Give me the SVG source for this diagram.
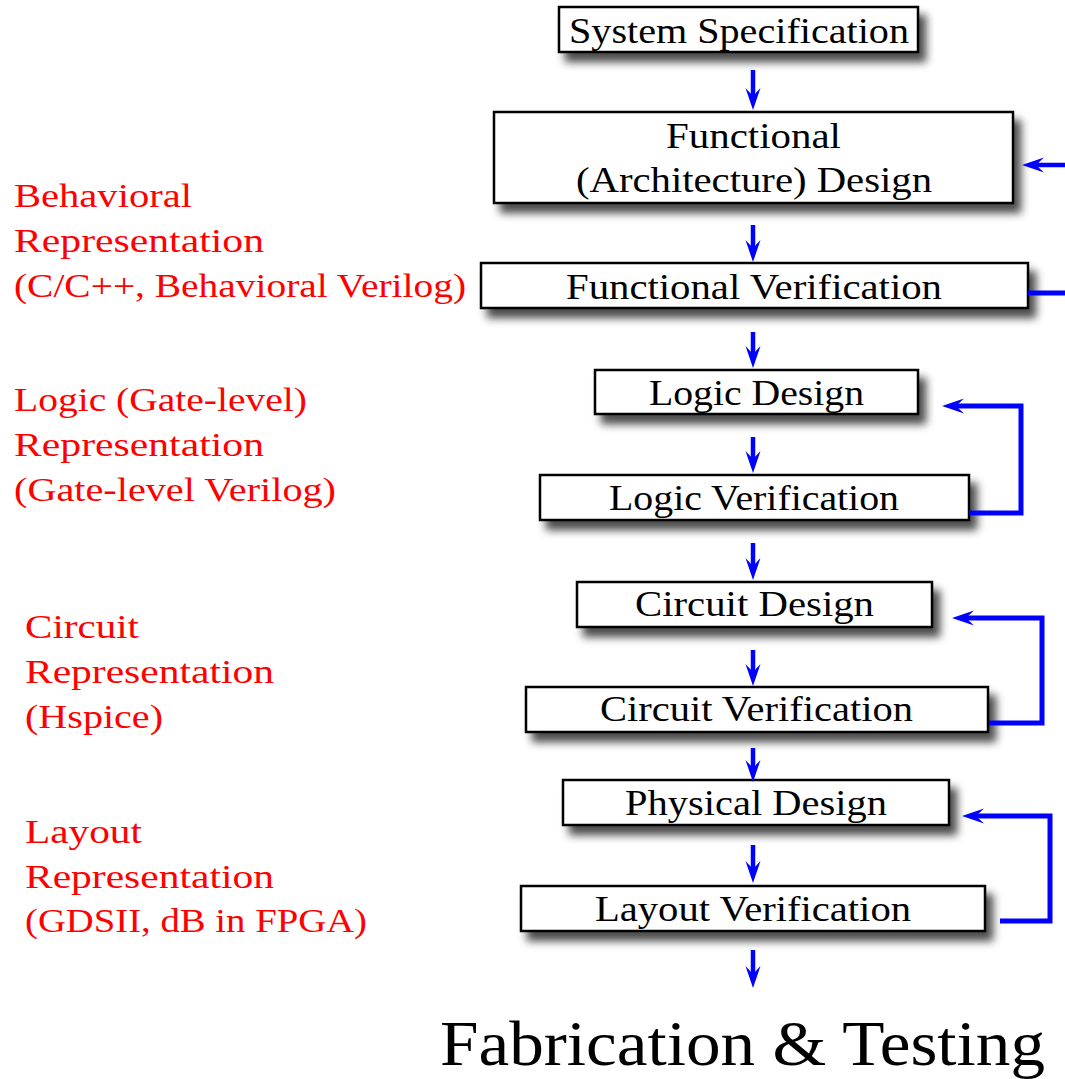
<svg xmlns="http://www.w3.org/2000/svg" width="1065" height="1079" viewBox="0 0 1065 1079">
  <style>
    .box { fill: #ffffff; stroke: #000000; stroke-width: 2.5; filter: url(#shadow); }
    .lbl { font-family: "Liberation Serif", "Times New Roman", Times, serif; font-size: 35px; fill: #000000; }
    .rep { font-family: "Liberation Serif", "Times New Roman", Times, serif; font-size: 34px; fill: #ff0000; }
    .big { font-family: "Liberation Serif", "Times New Roman", Times, serif; font-size: 64px; fill: #000000; }
    .flow { fill: none; stroke: #0000ff; stroke-width: 4.5; marker-end: url(#head); }
    .loop { fill: none; stroke: #0000ff; stroke-width: 5; stroke-linejoin: miter; }
  </style>
  <defs>
    <filter id="shadow" x="-10%" y="-30%" width="130%" height="190%">
      <feDropShadow dx="7" dy="9" stdDeviation="4.5" flood-color="#000000" flood-opacity="0.7"/>
    </filter>
    <marker id="head" markerUnits="userSpaceOnUse" viewBox="0 -8 22 16" refX="8" refY="0" markerWidth="22" markerHeight="16" orient="auto">
      <path d="M22,0 L0,-7.5 L8,0 L0,7.5 z" fill="#0000ff"/>
    </marker>
  </defs>

  <rect width="1065" height="1079" fill="#ffffff"/>

  <!-- representation labels -->
  <g id="rep-behavioral">
    <text class="rep" x="14" y="207" textLength="178" lengthAdjust="spacingAndGlyphs">Behavioral</text>
    <text class="rep" x="14" y="252" textLength="250" lengthAdjust="spacingAndGlyphs">Representation</text>
    <text class="rep" x="14" y="297" textLength="452" lengthAdjust="spacingAndGlyphs">(C/C++, Behavioral Verilog)</text>
  </g>
  <g id="rep-logic">
    <text class="rep" x="14" y="411" textLength="293" lengthAdjust="spacingAndGlyphs">Logic (Gate-level)</text>
    <text class="rep" x="14" y="456" textLength="250" lengthAdjust="spacingAndGlyphs">Representation</text>
    <text class="rep" x="14" y="501" textLength="322" lengthAdjust="spacingAndGlyphs">(Gate-level Verilog)</text>
  </g>
  <g id="rep-circuit">
    <text class="rep" x="25" y="638" textLength="114" lengthAdjust="spacingAndGlyphs">Circuit</text>
    <text class="rep" x="25" y="683" textLength="249" lengthAdjust="spacingAndGlyphs">Representation</text>
    <text class="rep" x="25" y="728" textLength="138" lengthAdjust="spacingAndGlyphs">(Hspice)</text>
  </g>
  <g id="rep-layout">
    <text class="rep" x="25" y="843" textLength="117" lengthAdjust="spacingAndGlyphs">Layout</text>
    <text class="rep" x="25" y="888" textLength="249" lengthAdjust="spacingAndGlyphs">Representation</text>
    <text class="rep" x="25" y="932" textLength="342" lengthAdjust="spacingAndGlyphs">(GDSII, dB in FPGA)</text>
  </g>

  <!-- flow steps -->
  <g id="system-specification">
    <rect class="box" x="559" y="7" width="359" height="45"/>
    <text class="lbl" x="569" y="43" textLength="340" lengthAdjust="spacingAndGlyphs">System Specification</text>
  </g>
  <g id="functional-design">
    <rect class="box" x="494" y="112" width="519" height="91"/>
    <text class="lbl" x="666" y="148" textLength="175" lengthAdjust="spacingAndGlyphs">Functional</text>
    <text class="lbl" x="576" y="192" textLength="356" lengthAdjust="spacingAndGlyphs">(Architecture) Design</text>
  </g>
  <g id="functional-verification">
    <rect class="box" x="481" y="263" width="547" height="45"/>
    <text class="lbl" x="566" y="299" textLength="376" lengthAdjust="spacingAndGlyphs">Functional Verification</text>
  </g>
  <g id="logic-design">
    <rect class="box" x="595" y="370" width="323" height="44"/>
    <text class="lbl" x="649" y="405" textLength="215" lengthAdjust="spacingAndGlyphs">Logic Design</text>
  </g>
  <g id="logic-verification">
    <rect class="box" x="540" y="475" width="429" height="45"/>
    <text class="lbl" x="609" y="510" textLength="290" lengthAdjust="spacingAndGlyphs">Logic Verification</text>
  </g>
  <g id="circuit-design">
    <rect class="box" x="577" y="582" width="355" height="45"/>
    <text class="lbl" x="635" y="616" textLength="239" lengthAdjust="spacingAndGlyphs">Circuit Design</text>
  </g>
  <g id="circuit-verification">
    <rect class="box" x="526" y="687" width="462" height="45"/>
    <text class="lbl" x="600" y="721" textLength="313" lengthAdjust="spacingAndGlyphs">Circuit Verification</text>
  </g>
  <g id="physical-design">
    <rect class="box" x="563" y="780" width="386" height="45"/>
    <text class="lbl" x="625" y="815" textLength="262" lengthAdjust="spacingAndGlyphs">Physical Design</text>
  </g>
  <g id="layout-verification">
    <rect class="box" x="521" y="886" width="464" height="45"/>
    <text class="lbl" x="595" y="921" textLength="316" lengthAdjust="spacingAndGlyphs">Layout Verification</text>
  </g>
  <g id="fabrication-testing">
    <text class="big" x="440" y="1065" textLength="605" lengthAdjust="spacingAndGlyphs">Fabrication &amp; Testing</text>
  </g>

  <!-- connectors -->
  <g id="connectors">
    <!-- downward flow -->
    <line class="flow" x1="753" y1="70" x2="753" y2="96"/>
    <line class="flow" x1="753" y1="225" x2="753" y2="248"/>
    <line class="flow" x1="753" y1="332" x2="753" y2="354"/>
    <line class="flow" x1="753" y1="437" x2="753" y2="459"/>
    <line class="flow" x1="753" y1="543" x2="753" y2="566"/>
    <line class="flow" x1="753" y1="650" x2="753" y2="672"/>
    <line class="flow" x1="753" y1="748" x2="753" y2="768"/>
    <line class="flow" x1="753" y1="845" x2="753" y2="869"/>
    <line class="flow" x1="753" y1="950" x2="753" y2="974"/>

    <!-- verification feedback loops -->
    <line class="loop" x1="1028" y1="293" x2="1066" y2="293"/>
    <path class="flow" d="M1066,165 L1036,165"/>
    <path class="loop" d="M969,513 L1021,513 L1021,406 L956,406" marker-end="url(#head)"/>
    <path class="loop" d="M989,723 L1042,723 L1042,618 L966,618" marker-end="url(#head)"/>
    <path class="loop" d="M1000,921 L1050,921 L1050,816 L976,816" marker-end="url(#head)"/>
  </g>
</svg>
